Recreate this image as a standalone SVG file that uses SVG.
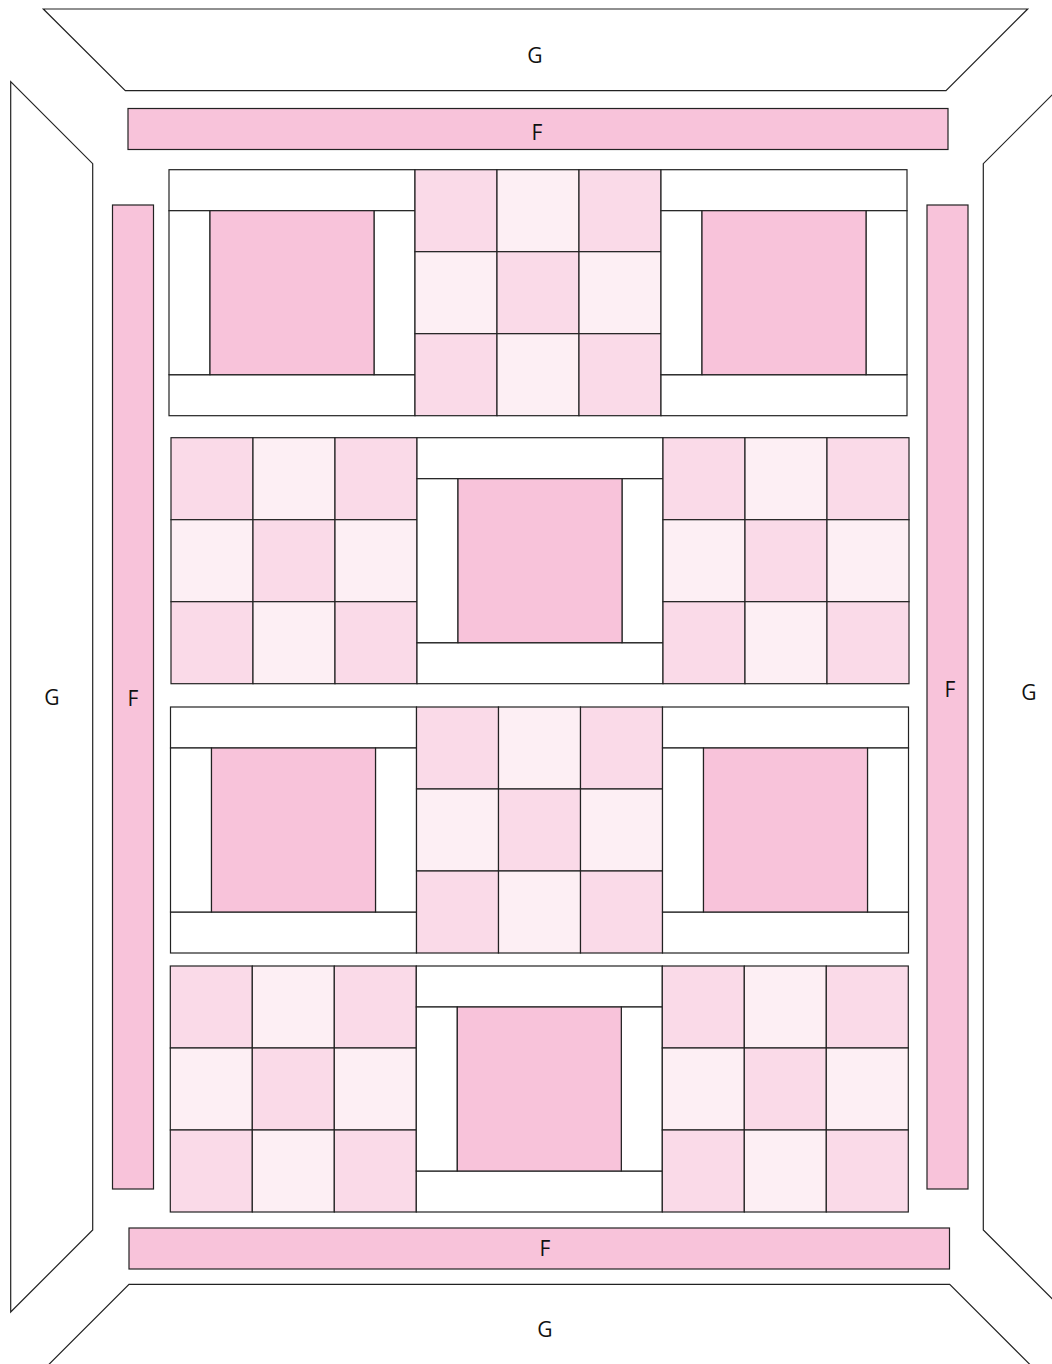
<svg xmlns="http://www.w3.org/2000/svg" width="1052" height="1364" viewBox="0 0 1052 1364">
<style>
.o{fill:#fff;stroke:#222;stroke-width:1.2}
.d{fill:#F8C3DA;stroke:#222;stroke-width:1.2}
.m{fill:#FADAE8;stroke:#222;stroke-width:1.2}
.l{fill:#FDEFF4;stroke:#222;stroke-width:1.2}
.w{fill:#fff;stroke:#222;stroke-width:1.2}
text{font-family:"Open Sans","Noto Sans","Liberation Sans",sans-serif;font-size:21px;fill:#111;text-anchor:middle}
</style>
<defs>
<g id="frame">
<rect class="w" x="0" y="0" width="246" height="41"/>
<rect class="w" x="0" y="205" width="246" height="41"/>
<rect class="w" x="0" y="41" width="41" height="164"/>
<rect class="w" x="205" y="41" width="41" height="164"/>
<rect class="d" x="41" y="41" width="164" height="164"/>
</g>
<g id="nine">
<rect class="m" x="0" y="0" width="82" height="82"/>
<rect class="l" x="82" y="0" width="82" height="82"/>
<rect class="m" x="164" y="0" width="82" height="82"/>
<rect class="l" x="0" y="82" width="82" height="82"/>
<rect class="m" x="82" y="82" width="82" height="82"/>
<rect class="l" x="164" y="82" width="82" height="82"/>
<rect class="m" x="0" y="164" width="82" height="82"/>
<rect class="l" x="82" y="164" width="82" height="82"/>
<rect class="m" x="164" y="164" width="82" height="82"/>
</g>
</defs>
<g id="border-G-top"><polygon class="o" points="43.3,9 1027.7,9 946,90.7 125.3,90.7"/><text x="535" y="63">G</text></g>
<g id="border-G-left"><polygon class="o" points="10.7,81.7 92.7,163.7 92.7,1230 10.7,1312"/><text x="52" y="705">G</text></g>
<g id="border-G-right"><polygon class="o" points="1065.3,81.7 983.3,163.7 983.3,1230 1065.3,1312"/><text x="1029" y="700">G</text></g>
<g id="border-G-bottom"><polygon class="o" points="129,1284.3 949.7,1284.3 1031.4,1366 47.3,1366"/><text x="545" y="1337">G</text></g>
<g id="border-F-top"><rect class="d" x="128" y="108.5" width="820" height="41"/><text x="537" y="140">F</text></g>
<g id="border-F-left"><rect class="d" x="112.5" y="205" width="41" height="984"/><text x="133" y="706">F</text></g>
<g id="border-F-right"><rect class="d" x="927" y="205" width="41" height="984"/><text x="950" y="697">F</text></g>
<g id="border-F-bottom"><rect class="d" x="129" y="1228" width="820.5" height="41"/><text x="545" y="1256">F</text></g>
<g id="row1">
<use href="#frame" x="169" y="169.7"/>
<use href="#nine" x="415" y="169.7"/>
<use href="#frame" x="661" y="169.7"/>
</g>
<g id="row2">
<use href="#nine" x="171" y="437.7"/>
<use href="#frame" x="417" y="437.7"/>
<use href="#nine" x="663" y="437.7"/>
</g>
<g id="row3">
<use href="#frame" x="170.5" y="707"/>
<use href="#nine" x="416.5" y="707"/>
<use href="#frame" x="662.5" y="707"/>
</g>
<g id="row4">
<use href="#nine" x="170.3" y="966"/>
<use href="#frame" x="416.3" y="966"/>
<use href="#nine" x="662.3" y="966"/>
</g>
</svg>
